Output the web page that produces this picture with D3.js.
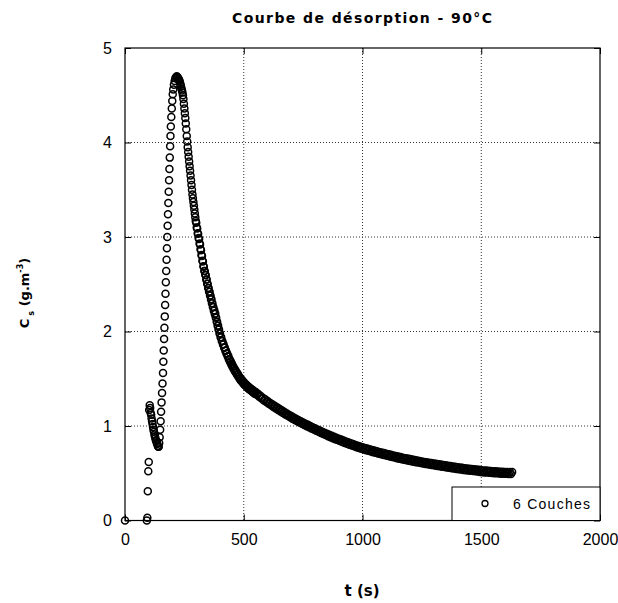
<!DOCTYPE html>
<html>
<head>
<meta charset="utf-8">
<script src="https://cdn.jsdelivr.net/npm/d3@7"></script>
<style>
  html, body { margin: 0; padding: 0; background: #fff; }
  svg { display: block; }
</style>
</head>
<body>
<svg id="chart" width="618" height="603"></svg>
<script>
// ---- Data ----
const chartTitle = "Courbe de désorption - 90°C";
const seriesName = "6 Couches";
const xTicks = [0, 500, 1000, 1500, 2000];
const yTicks = [0, 1, 2, 3, 4, 5];

// start, first transient and rise to the peak
const riseTimes = [
  0,
  92, 94, 96, 98, 100,
  102, 104, 106, 108, 110, 112, 114, 116, 118, 120, 122, 124, 126, 128, 130, 132, 134, 136, 138, 140,
  142, 144, 146, 148, 150, 152, 154, 156, 158, 160,
  161.5, 163, 164.5, 166, 167.5, 169, 170.5, 172, 173.5, 175, 176.5, 178, 179.5, 181, 182.5, 184, 185.5, 187, 188.5, 190,
  191.5, 193, 195, 197, 199, 201, 203, 206, 209, 212, 215, 218, 221, 224
];
const riseValues = [
  0,
  0, 0.03, 0.31, 0.52, 0.62,
  1.17, 1.22, 1.19, 1.14, 1.12, 1.08, 1.05, 1.02, 0.99, 0.96, 0.94, 0.91, 0.89, 0.87, 0.85, 0.84, 0.82, 0.81, 0.79, 0.78,
  0.78, 0.82, 0.88, 0.96, 1.05, 1.15, 1.25, 1.35, 1.45, 1.56,
  1.68, 1.80, 1.92, 2.04, 2.16, 2.28, 2.40, 2.52, 2.64, 2.76, 2.88, 3.00, 3.12, 3.24, 3.36, 3.48, 3.60, 3.72, 3.84, 3.96,
  4.07, 4.17, 4.27, 4.36, 4.44, 4.51, 4.56, 4.61, 4.65, 4.68, 4.69, 4.70, 4.69, 4.68
];

// fast decay after the peak
const decayTimes = [
  226, 228, 230, 232, 234, 236, 238, 240, 242, 244, 246, 248, 250, 252, 254, 256, 258, 260,
  262, 264, 266, 268, 270, 272, 274, 276, 278, 280, 282, 284, 286, 288, 290, 292, 294, 296, 298,
  300, 302, 304, 306, 308, 310, 312, 314, 316, 318, 320, 322, 324, 326, 328, 330, 332, 334, 336, 338,
  340, 342, 344, 346, 348, 350, 352, 354, 356, 358, 360, 362, 364, 366, 368, 370, 372, 374, 376, 378,
  380, 382, 384, 386, 388, 390, 392, 394, 396, 398,
  400, 402.5, 405, 407.5, 410, 412.5, 415, 417.5, 420, 422.5, 425, 427.5, 430, 432.5, 435, 437.5, 440, 442.5, 445, 447.5,
  450, 452.5, 455, 457.5, 460, 462.5, 465, 467.5, 470, 472.5, 475, 477.5, 480, 482.5, 485, 487.5, 490, 492.5, 495, 497.5,
  500, 502.5, 505, 507.5, 510, 512.5, 515, 517.5, 520, 522.5, 525, 527.5, 530, 532.5, 535, 537.5, 540, 542.5, 545, 547.5
];
const decayValues = [
  4.67, 4.66, 4.65, 4.63, 4.61, 4.59, 4.57, 4.55, 4.53, 4.50, 4.46, 4.41, 4.36, 4.31, 4.26, 4.20, 4.14, 4.07,
  4.01, 3.95, 3.90, 3.85, 3.80, 3.75, 3.70, 3.65, 3.60, 3.55, 3.50, 3.45, 3.41, 3.37, 3.33, 3.29, 3.25, 3.21, 3.17,
  3.15, 3.10, 3.09, 3.04, 3.035, 2.99, 2.98, 2.93, 2.92, 2.87, 2.86, 2.81, 2.80, 2.75, 2.74, 2.69, 2.685, 2.64, 2.64, 2.60,
  2.595, 2.55, 2.55, 2.505, 2.505, 2.46, 2.46, 2.42, 2.42, 2.38, 2.38, 2.34, 2.34, 2.30, 2.30, 2.26, 2.26, 2.22, 2.225, 2.185,
  2.19, 2.15, 2.145, 2.105, 2.10, 2.06, 2.06, 2.02, 2.02, 1.98,
  1.98, 1.94, 1.94, 1.90, 1.90, 1.862, 1.865, 1.827, 1.83, 1.795, 1.80, 1.765, 1.77, 1.735, 1.74, 1.705, 1.71, 1.677, 1.685, 1.652,
  1.66, 1.627, 1.635, 1.602, 1.61, 1.58, 1.59, 1.56, 1.57, 1.54, 1.55, 1.52, 1.53, 1.50, 1.51, 1.482, 1.495, 1.467, 1.48, 1.452,
  1.465, 1.437, 1.45, 1.425, 1.44, 1.412, 1.425, 1.40, 1.415, 1.39, 1.405, 1.38, 1.395, 1.37, 1.385, 1.36, 1.375, 1.35, 1.365, 1.34
];

// slow tail
const tailTimes = [
  550, 555, 560, 565, 570, 575, 580, 585, 590, 595, 600, 605, 610, 615, 620, 625, 630, 635, 640, 645,
  650, 655, 660, 665, 670, 675, 680, 685, 690, 695, 700, 705, 710, 715, 720, 725, 730, 735, 740, 745,
  750, 755, 760, 765, 770, 775, 780, 785, 790, 795, 800, 805, 810, 815, 820, 825, 830, 835, 840, 845,
  850, 855, 860, 865, 870, 875, 880, 885, 890, 895, 900, 905, 910, 915, 920, 925, 930, 935, 940, 945,
  950, 955, 960, 965, 970, 975, 980, 985, 990, 995, 1000, 1005, 1010, 1015, 1020, 1025, 1030, 1035, 1040, 1045,
  1050, 1055, 1060, 1065, 1070, 1075, 1080, 1085, 1090, 1095, 1100, 1105, 1110, 1115, 1120, 1125, 1130, 1135, 1140, 1145,
  1150, 1155, 1160, 1165, 1170, 1175, 1180, 1185, 1190, 1195, 1200, 1205, 1210, 1215, 1220, 1225, 1230, 1235, 1240, 1245,
  1250, 1255, 1260, 1265, 1270, 1275, 1280, 1285, 1290, 1295, 1300, 1305, 1310, 1315, 1320, 1325, 1330, 1335, 1340, 1345,
  1350, 1355, 1360, 1365, 1370, 1375, 1380, 1385, 1390, 1395, 1400, 1405, 1410, 1415, 1420, 1425, 1430, 1435, 1440, 1445,
  1450, 1455, 1460, 1465, 1470, 1475, 1480, 1485, 1490, 1495, 1500, 1505, 1510, 1515, 1520, 1525, 1530, 1535, 1540, 1545,
  1550, 1555, 1560, 1565, 1570, 1575, 1580, 1585, 1590, 1595, 1600, 1605, 1610, 1615, 1620, 1625, 1630
];
const tailValues = [
  1.36, 1.33, 1.34, 1.31, 1.32, 1.29, 1.30, 1.271, 1.282, 1.253, 1.264, 1.2355, 1.247, 1.2185, 1.23, 1.202, 1.214, 1.186, 1.198, 1.17,
  1.182, 1.154, 1.166, 1.138, 1.15, 1.1225, 1.135, 1.1075, 1.12, 1.0925, 1.105, 1.0775, 1.09, 1.0635, 1.077, 1.0505, 1.064, 1.0375, 1.051, 1.0245,
  1.038, 1.0115, 1.025, 0.9985, 1.012, 0.986, 1.00, 0.974, 0.988, 0.962, 0.976, 0.95, 0.964, 0.938, 0.952, 0.926, 0.94, 0.9145, 0.929, 0.9035,
  0.918, 0.8925, 0.907, 0.8815, 0.896, 0.871, 0.886, 0.861, 0.876, 0.851, 0.866, 0.841, 0.856, 0.831, 0.846, 0.821, 0.836, 0.8115, 0.827, 0.8025,
  0.818, 0.7935, 0.809, 0.7845, 0.80, 0.776, 0.792, 0.768, 0.784, 0.76, 0.776, 0.752, 0.768, 0.7445, 0.761, 0.7375, 0.754, 0.7305, 0.747, 0.7235,
  0.74, 0.7165, 0.733, 0.7095, 0.726, 0.7025, 0.719, 0.696, 0.713, 0.69, 0.707, 0.684, 0.701, 0.678, 0.695, 0.672, 0.689, 0.666, 0.683, 0.66,
  0.677, 0.654, 0.671, 0.648, 0.665, 0.6425, 0.66, 0.6375, 0.655, 0.6325, 0.65, 0.6275, 0.645, 0.6225, 0.64, 0.6175, 0.635, 0.6125, 0.63, 0.6075,
  0.625, 0.6025, 0.62, 0.598, 0.616, 0.594, 0.612, 0.59, 0.608, 0.586, 0.604, 0.582, 0.60, 0.578, 0.596, 0.574, 0.592, 0.57, 0.588, 0.566,
  0.584, 0.562, 0.58, 0.558, 0.576, 0.554, 0.572, 0.55, 0.568, 0.546, 0.564, 0.542, 0.56, 0.5385, 0.557, 0.5355, 0.554, 0.5325, 0.551, 0.5295,
  0.548, 0.5265, 0.545, 0.5235, 0.542, 0.5205, 0.539, 0.5175, 0.536, 0.5145, 0.533, 0.5115, 0.53, 0.509, 0.528, 0.507, 0.526, 0.505, 0.524, 0.503,
  0.522, 0.501, 0.52, 0.499, 0.518, 0.4975, 0.516, 0.4955, 0.515, 0.4945, 0.514, 0.4935, 0.513, 0.4925, 0.512, 0.492, 0.512
];

const times = riseTimes.concat(decayTimes, tailTimes);
const concentration = riseValues.concat(decayValues, tailValues);

// ---- Layout ----
const svg = d3.select("#chart");
const plot = { left: 125, right: 600, top: 48, bottom: 520.5 };

const x = d3.scaleLinear().domain([0, 2000]).range([plot.left, plot.right]);
const y = d3.scaleLinear().domain([0, 5]).range([plot.bottom, plot.top]);

const tickFont = "'Liberation Sans', Arial, sans-serif";
const boldFont = "'DejaVu Sans', Verdana, sans-serif";

// gridlines (dotted)
const grid = svg.append("g").attr("class", "grid");
grid.selectAll("line.vx")
  .data(xTicks.filter(d => d > 0 && d < 2000))
  .join("line")
  .attr("x1", d => x(d)).attr("x2", d => x(d))
  .attr("y1", plot.top).attr("y2", plot.bottom)
  .attr("stroke", "#333").attr("stroke-width", 1).attr("stroke-dasharray", "1,2");
grid.selectAll("line.hy")
  .data(yTicks.filter(d => d > 0 && d < 5))
  .join("line")
  .attr("x1", plot.left).attr("x2", plot.right)
  .attr("y1", d => y(d)).attr("y2", d => y(d))
  .attr("stroke", "#333").attr("stroke-width", 1).attr("stroke-dasharray", "1,2");

// data points (open circles)
const data = times.map((t, i) => ({ t, v: concentration[i] }));
svg.append("g").attr("class", "points")
  .selectAll("circle")
  .data(data)
  .join("circle")
  .attr("cx", d => x(d.t))
  .attr("cy", d => y(d.v))
  .attr("r", 3.5)
  .attr("fill", "none")
  .attr("stroke", "#000")
  .attr("stroke-width", 1.5);

// axes
function styleAxis(g) {
  g.select(".domain").remove();
  g.selectAll(".tick line").attr("stroke", "#000");
  g.selectAll(".tick text").attr("font-family", tickFont).attr("font-size", 16).attr("fill", "#000");
}
svg.append("g").attr("transform", `translate(0,${plot.bottom})`)
  .call(d3.axisBottom(x).tickValues(xTicks).tickSize(-6).tickPadding(13).tickFormat(d3.format("d")))
  .call(styleAxis);
svg.append("g").attr("transform", `translate(${plot.left},0)`)
  .call(d3.axisLeft(y).tickValues(yTicks).tickSize(-6).tickPadding(13).tickFormat(d3.format("d")))
  .call(styleAxis);
svg.append("g").attr("transform", `translate(0,${plot.top})`)
  .call(d3.axisTop(x).tickValues(xTicks).tickSize(-6).tickFormat(""))
  .call(styleAxis);
svg.append("g").attr("transform", `translate(${plot.right},0)`)
  .call(d3.axisRight(y).tickValues(yTicks).tickSize(-6).tickFormat(""))
  .call(styleAxis);

// frame
svg.append("rect")
  .attr("x", plot.left).attr("y", plot.top)
  .attr("width", plot.right - plot.left).attr("height", plot.bottom - plot.top)
  .attr("fill", "none").attr("stroke", "#000").attr("stroke-width", 1.2);

// legend
const lg = svg.append("g").attr("class", "legend");
lg.append("rect")
  .attr("x", 452).attr("y", 487).attr("width", plot.right - 452).attr("height", plot.bottom - 487)
  .attr("fill", "#fff").attr("stroke", "#000").attr("stroke-width", 1);
lg.append("circle").attr("cx", 485).attr("cy", 503.5).attr("r", 3)
  .attr("fill", "#fff").attr("stroke", "#000").attr("stroke-width", 1.3);
lg.append("text").attr("x", 513).attr("y", 508.5)
  .attr("font-family", tickFont).attr("font-size", 14)
  .attr("textLength", 77).attr("lengthAdjust", "spacing")
  .text(seriesName);

// title
svg.append("text")
  .attr("x", 362).attr("y", 23)
  .attr("text-anchor", "middle")
  .attr("font-family", boldFont).attr("font-weight", "bold").attr("font-size", 14)
  .attr("textLength", 260).attr("lengthAdjust", "spacing")
  .text(chartTitle);

// x axis label
svg.append("text")
  .attr("x", 362).attr("y", 596)
  .attr("text-anchor", "middle")
  .attr("font-family", boldFont).attr("font-weight", "bold").attr("font-size", 15)
  .attr("textLength", 35).attr("lengthAdjust", "spacing")
  .text("t (s)");

// y axis label
const yl = svg.append("text")
  .attr("transform", "translate(29,293) rotate(-90)")
  .attr("text-anchor", "middle")
  .attr("font-family", boldFont).attr("font-weight", "bold").attr("font-size", 13);
yl.append("tspan").text("C");
yl.append("tspan").attr("font-size", 8).attr("dx", 3).attr("dy", 5).text("s");
yl.append("tspan").attr("dy", -5).text(" (g.m");
yl.append("tspan").attr("font-size", 8).attr("dy", -6).text("-3");
yl.append("tspan").attr("dy", 6).text(")");
</script>
</body>
</html>
